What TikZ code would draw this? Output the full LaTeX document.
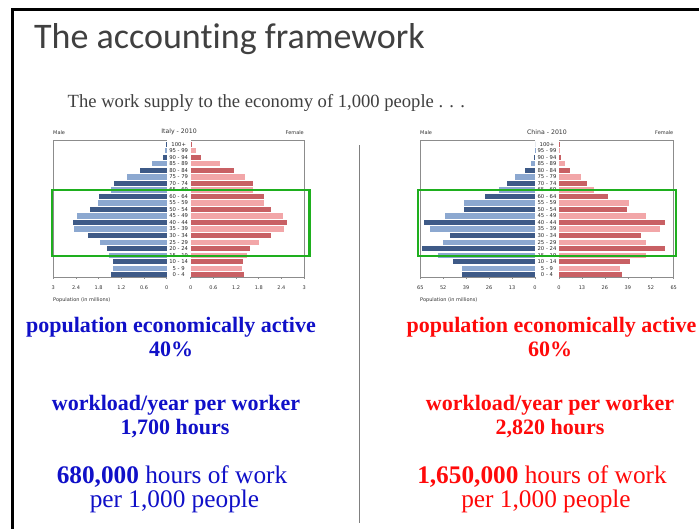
\documentclass[tikz,border=0pt]{standalone}
\usepackage{fontspec}
\setmainfont{Liberation Serif}
\newfontfamily\titlefont[Ligatures={NoCommon,NoDiscretionary}]{Carlito}
\newfontfamily\chartfont{DejaVu Sans}
\definecolor{mdark}{RGB}{62,90,135}
\definecolor{mlight}{RGB}{140,168,208}
\definecolor{fdark}{RGB}{200,96,100}
\definecolor{flight}{RGB}{242,166,168}
\definecolor{boxgreen}{RGB}{30,175,30}
\definecolor{txtblue}{RGB}{16,16,200}
\definecolor{txtred}{RGB}{255,10,10}
\definecolor{titlegray}{RGB}{64,64,64}
\newcommand\pyramid[5]{%
  % #1 male zero x, #2 female zero x, #3 px per unit, #4 data list, #5 max value
  \foreach \m/\f [count=\i from 0] in {#4} {
    \pgfmathsetmacro\yy{274.7-\i*6.52}
    \pgfmathtruncatemacro\odd{mod(\i,2)}
    \ifnum\odd=0 \def\mc{mdark}\def\fc{fdark}\else\def\mc{mlight}\def\fc{flight}\fi
    \fill[\mc] (#1-\m*#3, \yy-2.6) rectangle (#1, \yy+2.6);
    \fill[\fc] (#2, \yy-2.6) rectangle (#2+\f*#3, \yy+2.6);
  }
  \draw[chartline] (#1,140) -- (#1-#5*#3,140) -- (#1-#5*#3,277) -- (#1,277);
  \draw[chartline] (#2,140) -- (#2+#5*#3,140) -- (#2+#5*#3,277) -- (#2,277);
}
\begin{document}
\begin{tikzpicture}[x=1pt,y=-1pt,
  chartline/.style={draw=black!45,line width=0.5pt},
  charttxt/.style={inner sep=0pt,font=\chartfont\fontsize{5}{6}\selectfont,text=black!80},
  agetxt/.style={inner sep=0pt,font=\chartfont\fontsize{5.3}{6}\selectfont,text=black!85},
  greenbox/.style={draw=boxgreen,line width=2.4pt},
  boldline/.style={anchor=base,inner sep=0pt,font=\fontsize{22}{26}\selectfont\bfseries},
  bigline/.style={anchor=base,inner sep=0pt,font=\fontsize{25.3}{28}\selectfont},
]
\useasboundingbox (0,0) rectangle (699,528);
\fill[white] (0,0) rectangle (699,528);

% slide frame
\draw[line width=2.2pt,line cap=rect] (12.5,528) -- (12.5,9.5) -- (699,9.5);

% title
\node[anchor=base west,inner sep=0pt,text=titlegray,font=\titlefont\fontsize{36}{40}\selectfont] (title) at (34,48.3) {The accounting framework};
\node[anchor=base west,inner sep=0pt,text=titlegray,font=\fontsize{18.6}{21}\selectfont] (subtitle) at (67.5,107.7) {The work supply to the economy of 1,000 people . . .};

% Italy pyramid
\pyramid{166.7}{190.7}{37.8}{1.47/1.40, 1.41/1.37, 1.41/1.38, 1.52/1.48, 1.58/1.58, 1.77/1.80, 2.08/2.12, 2.45/2.48, 2.49/2.54, 2.38/2.43, 2.04/2.12, 1.83/1.94, 1.80/1.95, 1.47/1.66, 1.39/1.66, 1.06/1.44, 0.71/1.15, 0.38/0.78, 0.11/0.27, 0.04/0.13, 0.01/0.03}{3}
\foreach \lab [count=\i from 0] in {0 - 4,5 - 9,10 - 14,15 - 19,20 - 24,25 - 29,30 - 34,35 - 39,40 - 44,45 - 49,50 - 54,55 - 59,60 - 64,65 - 69,70 - 74,75 - 79,80 - 84,85 - 89,90 - 94,95 - 99,100+}
  \node[agetxt] (ia\i) at (178.7,274.7-\i*6.52) {\lab};
\foreach \v [count=\i] in {0,0.6,1.2,1.8,2.4,3} {
  \draw[chartline] (166.7-\v*37.8,277) -- (166.7-\v*37.8,279);
  \draw[chartline] (190.7+\v*37.8,277) -- (190.7+\v*37.8,279);
  \node[charttxt] (itm\i) at (166.7-\v*37.8,287.7) {\v};
  \node[charttxt] (itf\i) at (190.7+\v*37.8,287.7) {\v};
}
\node[charttxt,anchor=west] (imale) at (53,133) {Male};
\node[charttxt,font=\chartfont\fontsize{6.2}{7}\selectfont] (ititle) at (179,132) {Italy - 2010};
\node[charttxt,anchor=east] (ifemale) at (304,133) {Female};
\node[charttxt,anchor=west] (ipop) at (53,300) {Population (in millions)};
\draw[greenbox] (51.7,190) rectangle (309.3,256);

% China pyramid
\pyramid{535}{559}{1.765}{41.1/35.6, 41.1/34.7, 46.7/40.3, 54.8/49.1, 64.0/59.8, 52.0/49.4, 48.2/46.2, 59.7/57.4, 62.7/60.2, 51.0/49.4, 40.5/38.6, 40.5/39.4, 28.6/27.7, 20.3/19.9, 16.0/16.1, 11.1/12.3, 5.8/6.4, 2.3/3.4, 0.75/1.1, 0.2/0.4, 0/0.2}{65}
\foreach \lab [count=\i from 0] in {0 - 4,5 - 9,10 - 14,15 - 19,20 - 24,25 - 29,30 - 34,35 - 39,40 - 44,45 - 49,50 - 54,55 - 59,60 - 64,65 - 69,70 - 74,75 - 79,80 - 84,85 - 89,90 - 94,95 - 99,100+}
  \node[agetxt] (ca\i) at (547,274.7-\i*6.52) {\lab};
\foreach \v [count=\i] in {0,13,26,39,52,65} {
  \draw[chartline] (535-\v*1.765,277) -- (535-\v*1.765,279);
  \draw[chartline] (559+\v*1.765,277) -- (559+\v*1.765,279);
  \node[charttxt] (ctm\i) at (535-\v*1.765,287.7) {\v};
  \node[charttxt] (ctf\i) at (559+\v*1.765,287.7) {\v};
}
\node[charttxt,anchor=west] (cmale) at (420,132.5) {Male};
\node[charttxt,font=\chartfont\fontsize{6.2}{7}\selectfont] (ctitle) at (547,132) {China - 2010};
\node[charttxt,anchor=east] (cfemale) at (673.5,132.5) {Female};
\node[charttxt,anchor=west] (cpop) at (420,300) {Population (in millions)};
\draw[greenbox] (418,190) rectangle (676,256);

% divider
\draw[black!50,line width=1pt] (359,145) -- (359,523);

% left texts
\begin{scope}[text=txtblue]
\node[boldline] (l1) at (171,332.7) {population economically active};
\node[boldline] (l2) at (171,356.7) {40\%};
\node[boldline] (l3) at (176,410) {workload/year per worker};
\node[boldline] (l4) at (175,434.3) {1,700 hours};
\node[bigline] (l5) at (172,483.3) {\textbf{680,000} hours of work};
\node[bigline] (l6) at (174.5,507.7) {per 1,000 people};
\end{scope}

% right texts
\begin{scope}[text=txtred]
\node[boldline] (r1) at (551.5,332.7) {population economically active};
\node[boldline] (r2) at (550,356.7) {60\%};
\node[boldline] (r3) at (550,410) {workload/year per worker};
\node[boldline] (r4) at (550,434.3) {2,820 hours};
\node[bigline] (r5) at (542,483.3) {\textbf{1,650,000} hours of work};
\node[bigline] (r6) at (546,507.7) {per 1,000 people};
\end{scope}
\end{tikzpicture}
\end{document}
